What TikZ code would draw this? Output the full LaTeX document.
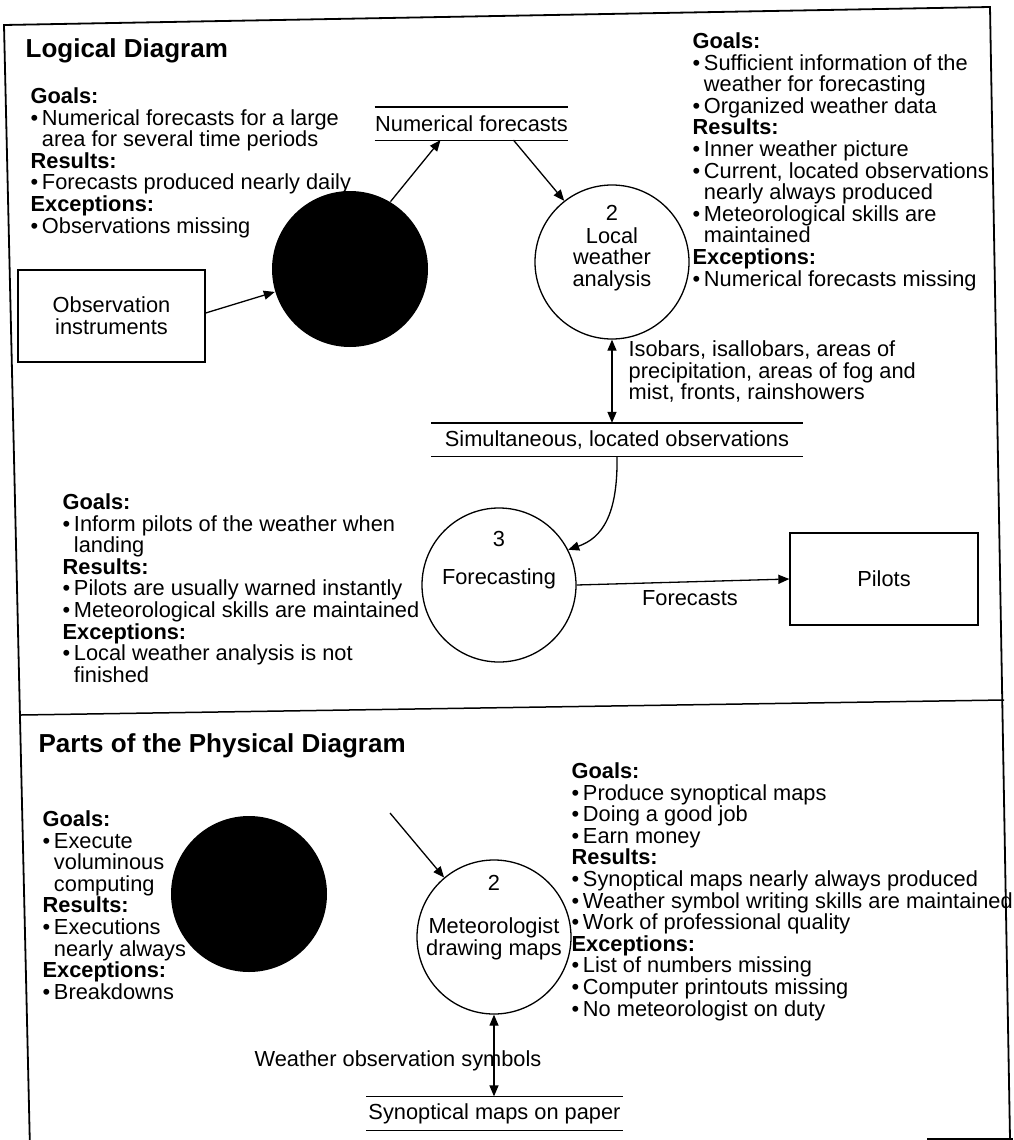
\documentclass[tikz,border=0pt]{standalone}
\usepackage{fontspec}
\setmainfont{Liberation Sans}
\usetikzlibrary{arrows.meta}

\newcommand{\bodyfont}{\fontsize{21.8}{21.6}\selectfont}
\newcommand{\blt}{\textbullet\hspace{0.17em}}
\newcommand{\bltind}{\hphantom{\blt}}

\begin{document}
\begin{tikzpicture}[x=1pt, y=-1pt, line width=1.3pt,
  >={Triangle[length=11pt, width=9pt]},
  notes/.style={anchor=north west, align=left, inner sep=0pt, font=\bodyfont},
  lbl/.style={inner sep=0pt, align=center, font=\bodyfont},
  heading/.style={anchor=base west, inner sep=0pt, font=\fontsize{26}{28}\selectfont\bfseries},
  proc/.style={circle, draw, minimum size=154pt, inner sep=0pt},
  dark/.style={circle, fill=black, minimum size=156pt, inner sep=0pt},
  ext/.style={draw, inner sep=0pt, font=\bodyfont, align=center},
  store/.style={inner sep=0pt, minimum height=32pt, font=\bodyfont}]
  \useasboundingbox (0,0) rectangle (1013,1140);

  % page frame and the line between the two halves
  \draw[line width=1.8pt] (30,1150) -- (4,25) -- (990,7) -- (1010,1139);
  \draw[line width=1.8pt] (927,1139) -- (1013,1139);
  \draw[line width=1.5pt] (21,715) -- (1004,700);

  % ---- logical diagram ----
  \node[heading] (titleA) at (25,57) {Logical Diagram};

  \node[notes] (goalsA) at (30,87) {\textbf{Goals:}\\
    \blt Numerical forecasts for a large\\
    \bltind area for several time periods\\
    \textbf{Results:}\\
    \blt Forecasts produced nearly daily\\
    \textbf{Exceptions:}\\
    \blt Observations missing};

  \node[notes] (goalsB) at (692,32) {\textbf{Goals:}\\
    \blt Sufficient information of the\\
    \bltind weather for forecasting\\
    \blt Organized weather data\\
    \textbf{Results:}\\
    \blt Inner weather picture\\
    \blt Current, located observations\\
    \bltind nearly always produced\\
    \blt Meteorological skills are\\
    \bltind maintained\\
    \textbf{Exceptions:}\\
    \blt Numerical forecasts missing};

  \node[notes] (goalsC) at (62,493) {\textbf{Goals:}\\
    \blt Inform pilots of the weather when\\
    \bltind landing\\
    \textbf{Results:}\\
    \blt Pilots are usually warned instantly\\
    \blt Meteorological skills are maintained\\
    \textbf{Exceptions:}\\
    \blt Local weather analysis is not\\
    \bltind finished};

  \node[ext, minimum width=187pt, minimum height=92pt] (obs) at (111.5,316) {Observation\\instruments};
  \node[dark] (numcalc) at (350,269) {};
  \node[store, minimum width=189pt] (numfc) at (471.5,123.5) {Numerical forecasts};
  \node[proc] (lwa) at (612,262) {};
  \node[lbl] at (612,213) {2};
  \node[lbl] at (612,259) {Local\\weather\\analysis};
  \node[store, minimum width=370pt] (simobs) at (617,439.5) {Simultaneous, located observations};
  \node[proc] (fc) at (499,585) {};
  \node[lbl] at (499,539) {3};
  \node[lbl] at (499,579) {Forecasting};
  \node[ext, minimum width=188pt, minimum height=92pt] (pilots) at (884,579) {Pilots};

  \draw (numfc.north west) -- (numfc.north east) (numfc.south west) -- (numfc.south east);
  \draw (simobs.north west) -- (simobs.north east) (simobs.south west) -- (simobs.south east);

  \draw[->] ([yshift=3pt]obs.east) -- (numcalc);
  \draw[->] (numcalc.59) -- ([xshift=-31pt]numfc.south);
  \draw[->] ([xshift=42pt]numfc.south) -- (lwa.128);
  \draw[<->] (lwa.south) -- (lwa.south |- simobs.north);
  \node[notes] (isob) at (628,340) {Isobars, isallobars, areas of\\
    precipitation, areas of fog and\\
    mist, fronts, rainshowers};
  \draw[->] (simobs.south) .. controls (618,515) and (602,538) .. (fc.27);
  \draw[->] (fc.east) -- (pilots.west);
  \node[lbl] (fcst) at (690,598) {Forecasts};

  % ---- physical diagram ----
  \node[heading] (titleB) at (38,752) {Parts of the Physical Diagram};

  \node[notes] (goalsD) at (42,810) {\textbf{Goals:}\\
    \blt Execute\\
    \bltind voluminous\\
    \bltind computing\\
    \textbf{Results:}\\
    \blt Executions\\
    \bltind nearly always\\
    \textbf{Exceptions:}\\
    \blt Breakdowns};

  \node[notes] (goalsE) at (571,762) {\textbf{Goals:}\\
    \blt Produce synoptical maps\\
    \blt Doing a good job\\
    \blt Earn money\\
    \textbf{Results:}\\
    \blt Synoptical maps nearly always produced\\
    \blt Weather symbol writing skills are maintained\\
    \blt Work of professional quality\\
    \textbf{Exceptions:}\\
    \blt List of numbers missing\\
    \blt Computer printouts missing\\
    \blt No meteorologist on duty};

  \node[dark] (computer) at (249,894) {};
  \node[proc] (met) at (494,937) {};
  \node[lbl] at (494,883) {2};
  \node[lbl] at (494,939) {Meteorologist\\drawing maps};
  \node[store, minimum width=255pt, minimum height=33pt] (synmap) at (494.5,1113.5) {Synoptical maps on paper};
  \draw (synmap.north west) -- (synmap.north east) (synmap.south west) -- (synmap.south east);

  \coordinate (feed) at (390,813);
  \draw[->] (feed) -- (met.130);
  \draw[<->] (met.south) -- (met.south |- synmap.north);
  \node[lbl] (wsym) at (398,1061) {Weather observation symbols};
\end{tikzpicture}
\end{document}
